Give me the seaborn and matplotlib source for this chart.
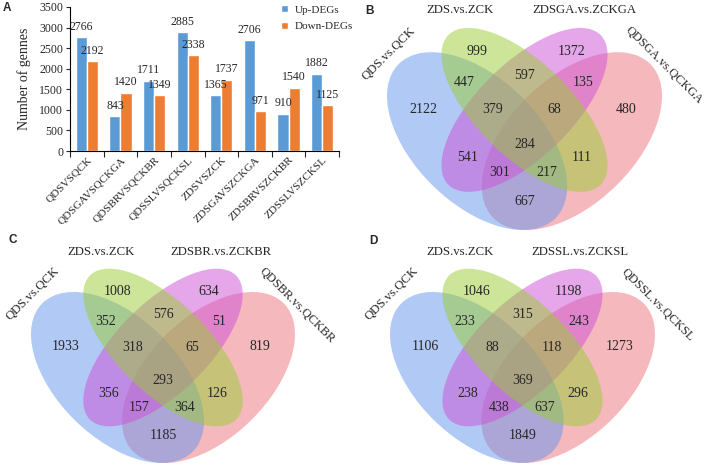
import numpy as np
import pandas as pd
import matplotlib
matplotlib.use("Agg")
import matplotlib.pyplot as plt
from matplotlib.patches import Ellipse
from matplotlib.transforms import Bbox
import seaborn as sns

# Panel A: numbers of DEGs per comparison
comparisons = ["QDSVSQCK", "QDSGAVSQCKGA", "QDSBRVSQCKBR", "QDSSLVSQCKSL",
               "ZDSVSZCK", "ZDSGAVSZCKGA", "ZDSBRVSZCKBR", "ZDSSLVSZCKSL"]
up_degs = [2766, 843, 1711, 2885, 1365, 2706, 910, 1882]
down_degs = [2192, 1420, 1349, 2338, 1737, 971, 1540, 1125]
y_ticks = [0, 500, 1000, 1500, 2000, 2500, 3000, 3500]

# Venn panels: region order (which sets overlap)
regions = ["1", "2", "3", "4", "12", "23", "34", "123", "234", "1234",
           "13", "24", "134", "124", "14"]

venn_b_sets = ["QDS.vs.QCK", "ZDS.vs.ZCK", "ZDSGA.vs.ZCKGA", "QDSGA.vs.QCKGA"]
venn_b_counts = [2122, 999, 1372, 480, 447, 597, 135, 379, 68, 284, 541, 111, 301, 217, 667]

venn_c_sets = ["QDS.vs.QCK", "ZDS.vs.ZCK", "ZDSBR.vs.ZCKBR", "QDSBR.vs.QCKBR"]
venn_c_counts = [1933, 1008, 634, 819, 352, 576, 51, 318, 65, 293, 356, 126, 157, 364, 1185]

venn_d_sets = ["QDS.vs.QCK", "ZDS.vs.ZCK", "ZDSSL.vs.ZCKSL", "QDSSL.vs.QCKSL"]
venn_d_counts = [1106, 1046, 1198, 1273, 233, 315, 243, 88, 118, 369, 238, 296, 438, 637, 1849]

sns.set_theme(style="ticks")
plt.rcParams["font.family"] = ["Liberation Serif", "DejaVu Serif"]

fig = plt.figure(figsize=(7.08, 4.69), dpi=100)

# ---- A: bar chart ----
df = pd.DataFrame({
    "comparison": comparisons * 2,
    "count": up_degs + down_degs,
    "type": ["Up-DEGs"] * len(up_degs) + ["Down-DEGs"] * len(down_degs),
})
ax_a = fig.add_axes([70 / 708, 1 - 151 / 469, 269 / 708, 144 / 469])
sns.barplot(data=df, x="comparison", y="count", hue="type",
            palette=["#5B9BD5", "#ED7D31"], saturation=1, width=0.66, ax=ax_a)
for cont in ax_a.containers:
    ax_a.bar_label(cont, fontsize=8.5, padding=3)
ax_a.set_ylim(0, 3500)
ax_a.set_xlim(-0.5, len(comparisons) - 0.5)
ax_a.set_yticks(y_ticks)
ax_a.set_xlabel("")
ax_a.set_ylabel("Number of gennes", fontsize=10, labelpad=6)
ax_a.tick_params(axis="y", labelsize=8.5, length=3, width=0.8, pad=2)
ax_a.tick_params(axis="x", which="major", length=0, labelsize=8, pad=3)
ax_a.set_xticks(np.arange(-0.5, len(comparisons), 1), minor=True)
ax_a.tick_params(axis="x", which="minor", length=4, width=0.8)
plt.setp(ax_a.get_xticklabels(), rotation=45, ha="right", rotation_mode="anchor")
for s in ["left", "bottom"]:
    ax_a.spines[s].set_linewidth(0.8)
    ax_a.spines[s].set_color("black")
sns.despine(ax=ax_a)
ax_a.legend(loc="upper left", bbox_to_anchor=(0.768, 1.042), borderaxespad=0,
            frameon=False, fontsize=8, handlelength=0.6, handleheight=0.6,
            labelspacing=0.6, handletextpad=0.6)

# ---- B, C, D: four-set Venn diagrams ----
# (center, semi-major, semi-minor, angle, colour); drawn in this order
ellipses = [((0.65, 0.47), 0.35, 0.20, 45, "#EB737D"),
            ((0.35, 0.47), 0.35, 0.20, 135, "#6495ED"),
            ((0.50, 0.57), 0.34, 0.15, 45, "#CD50D7"),
            ((0.50, 0.57), 0.34, 0.15, 135, "#9ACD32")]
region_xy = {
    "1": (0.18, 0.572), "2": (0.35, 0.757), "3": (0.65, 0.757), "4": (0.82, 0.572),
    "12": (0.31, 0.658), "23": (0.50, 0.681), "34": (0.685, 0.658),
    "123": (0.40, 0.570), "234": (0.595, 0.570), "1234": (0.50, 0.46),
    "13": (0.32, 0.417), "24": (0.68, 0.417),
    "134": (0.422, 0.370), "124": (0.572, 0.370), "14": (0.50, 0.277),
}


def draw_venn(rect, sets, counts, clip_x=None):
    ax = fig.add_axes(rect)
    ax.set_xlim(0.065, 0.935)
    ax.set_ylim(0.185, 0.855)
    ax.axis("off")
    for center, a, b, ang, col in ellipses:
        ax.add_patch(Ellipse(center, 2 * a, 2 * b, angle=ang, facecolor=col,
                             alpha=0.5, edgecolor="none", clip_on=False))
    for r, n in zip(regions, counts):
        x, y = region_xy[r]
        ax.text(x, y, str(n), ha="center", va="center", fontsize=10)
    ax.text(0.295, 0.89, sets[1], ha="center", va="center", fontsize=9.2)
    ax.text(0.69, 0.89, sets[2], ha="center", va="center", fontsize=9.2)
    ax.text(0.07, 0.75, sets[0], ha="center", va="center", fontsize=9.2,
            rotation=45, rotation_mode="anchor")
    t = ax.text(0.942, 0.712, sets[3], ha="center", va="center", fontsize=8.9,
                rotation=-45, rotation_mode="anchor")
    if clip_x is not None:
        t.set_clip_box(Bbox.from_extents(0, 0, clip_x, 469))
        t.set_clip_on(True)
    return ax


draw_venn([387 / 708, 1 - 230 / 469, 275 / 708, 209 / 469], venn_b_sets, venn_b_counts)
draw_venn([31 / 708, 1 - 463 / 469, 264 / 708, 201 / 469], venn_c_sets, venn_c_counts, clip_x=337)
draw_venn([390 / 708, 1 - 463 / 469, 265 / 708, 201 / 469], venn_d_sets, venn_d_counts)

# panel letters
for letter, (px, py) in zip("ABCD", [(7, 8), (370, 11), (13, 240), (373, 241)]):
    fig.text(px / 708, 1 - py / 469, letter, fontsize=8.5, fontweight="bold",
             family="Liberation Sans", ha="center", va="center")

fig.savefig("out.png", dpi=100)
